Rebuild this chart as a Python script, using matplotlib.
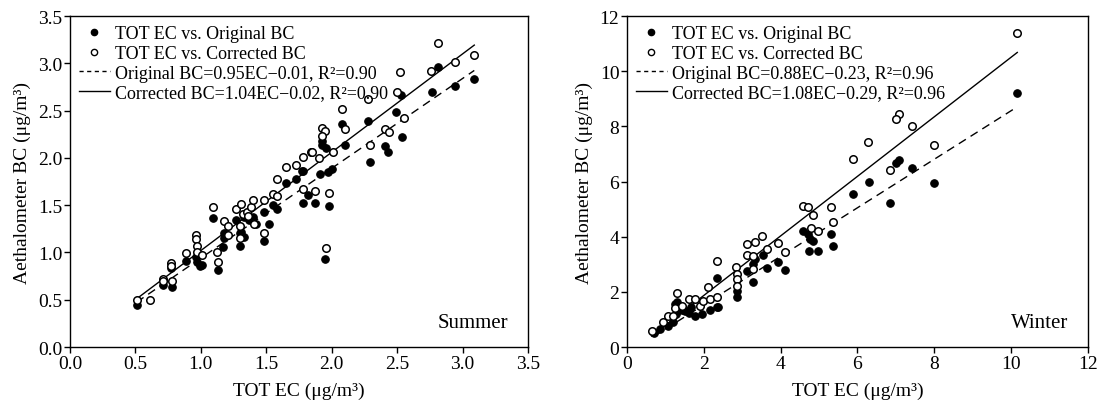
import numpy as np
import matplotlib
matplotlib.use("Agg")
import matplotlib.pyplot as plt
from matplotlib.lines import Line2D

plt.rcParams['font.family'] = ['Liberation Serif', 'DejaVu Serif']
plt.rcParams['font.size'] = 13

# ---------------- Summer data ----------------
summer_ec_orig = [0.51, 0.71, 0.78, 0.77, 0.89, 0.96, 0.97, 0.99, 1.01, 1.09, 1.13, 1.18, 1.18,
                  1.17, 1.27, 1.30, 1.30, 1.33, 1.37, 1.40, 1.33, 1.31, 1.42, 1.48, 1.48, 1.52,
                  1.55, 1.58, 1.65, 1.73, 1.78, 1.78, 1.87, 1.82, 1.77, 1.93, 1.93, 1.96, 1.91,
                  1.97, 2.00, 1.98, 1.95, 2.08, 2.10, 2.28, 2.29, 2.41, 2.43, 2.53, 2.49, 2.54,
                  2.81, 2.77, 2.94, 3.09]
summer_bc_orig = [0.44, 0.66, 0.64, 0.84, 0.91, 0.95, 0.90, 0.86, 0.87, 1.36, 0.81, 1.21, 1.15,
                  1.06, 1.34, 1.21, 1.07, 1.37, 1.34, 1.37, 1.16, 1.22, 1.30, 1.43, 1.12, 1.30,
                  1.50, 1.46, 1.74, 1.78, 1.86, 1.52, 1.52, 1.61, 1.86, 2.18, 2.14, 2.10, 1.83,
                  1.85, 1.88, 1.49, 0.93, 2.36, 2.14, 2.39, 1.96, 2.13, 2.06, 2.67, 2.49, 2.22,
                  2.96, 2.70, 2.76, 2.83]
summer_ec_corr = [0.51, 0.61, 0.71, 0.71, 0.78, 0.77, 0.77, 0.89, 0.96, 0.96, 0.97, 0.97, 1.01,
                  1.09, 1.12, 1.13, 1.18, 1.21, 1.21, 1.27, 1.31, 1.32, 1.30, 1.30, 1.35, 1.36,
                  1.38, 1.40, 1.41, 1.48, 1.48, 1.55, 1.58, 1.58, 1.65, 1.73, 1.78, 1.84, 1.78,
                  1.87, 1.85, 1.93, 1.95, 1.93, 2.01, 1.90, 1.98, 1.96, 2.08, 2.10, 2.28, 2.29,
                  2.41, 2.44, 2.52, 2.50, 2.55, 2.81, 2.76, 2.94, 3.09]
summer_bc_corr = [0.50, 0.50, 0.72, 0.70, 0.70, 0.89, 0.86, 0.99, 1.19, 1.14, 1.07, 1.00, 0.97,
                  1.48, 1.01, 0.90, 1.33, 1.28, 1.19, 1.46, 1.51, 1.41, 1.28, 1.15, 1.43, 1.39,
                  1.48, 1.56, 1.30, 1.55, 1.21, 1.62, 1.60, 1.78, 1.90, 1.93, 2.01, 2.06, 1.67,
                  1.65, 2.06, 2.32, 2.29, 2.23, 2.06, 2.00, 1.63, 1.05, 2.52, 2.31, 2.62, 2.14,
                  2.31, 2.27, 2.91, 2.70, 2.42, 3.22, 2.92, 3.02, 3.09]
summer_fit_orig = (0.95, -0.01, 0.90)
summer_fit_corr = (1.04, -0.02, 0.90)

# ---------------- Winter data ----------------
winter_ec_orig = [0.69, 0.86, 1.08, 1.21, 1.25, 1.28, 1.51, 1.66, 1.77, 1.95, 2.16, 2.33, 2.38,
                  2.35, 2.86, 2.86, 3.12, 3.29, 3.33, 3.28, 3.53, 3.64, 3.92, 4.12, 4.58, 4.70,
                  4.77, 4.85, 4.75, 4.96, 5.30, 5.35, 5.88, 6.31, 6.85, 7.00, 7.09, 7.41, 7.99,
                  10.16, 1.31, 1.42, 1.62]
winter_bc_orig = [0.50, 0.65, 0.78, 0.90, 1.56, 1.20, 1.32, 1.44, 1.14, 1.20, 1.35, 1.44, 1.44,
                  2.52, 2.04, 1.80, 2.77, 3.01, 3.19, 2.34, 3.33, 2.85, 3.10, 2.80, 4.21, 4.09,
                  3.91, 3.85, 3.49, 3.49, 4.09, 3.67, 5.54, 5.99, 5.24, 6.69, 6.79, 6.51, 5.94,
                  9.23, 1.65, 1.35, 1.25]
winter_ec_corr = [0.64, 0.93, 1.08, 1.21, 1.31, 1.25, 1.42, 1.62, 1.77, 1.89, 1.99, 2.15, 2.12,
                  2.35, 2.35, 2.84, 2.86, 2.86, 2.86, 3.13, 3.33, 3.51, 3.12, 3.29, 3.64, 3.92,
                  4.12, 4.58, 4.70, 4.84, 4.78, 4.96, 5.30, 5.35, 5.88, 6.28, 6.85, 7.07, 7.00,
                  7.41, 7.99, 10.16, 3.29]
winter_bc_corr = [0.59, 0.92, 1.13, 1.13, 1.96, 1.40, 1.50, 1.74, 1.74, 1.47, 1.68, 1.74, 2.16,
                  1.80, 3.13, 2.89, 2.65, 2.46, 2.22, 3.73, 3.82, 4.03, 3.33, 3.31, 3.55, 3.79,
                  3.45, 5.12, 5.06, 4.78, 4.30, 4.21, 5.06, 4.52, 6.81, 7.42, 6.43, 8.44, 8.28,
                  8.00, 7.33, 11.40, 2.82]
winter_fit_orig = (0.88, -0.23, 0.96)
winter_fit_corr = (1.08, -0.29, 0.96)

fig = plt.figure(figsize=(11.07, 4.10), dpi=100)
ax1 = fig.add_axes([0.0632, 0.1512, 0.4137, 0.807])
ax2 = fig.add_axes([0.5664, 0.1512, 0.4164, 0.807])

MS = 5.4


def draw(ax, eco, bco, ecc, bcc, fo, fc, xlim, ylim, xticks, yticks, fmt, season):
    ax.plot(eco, bco, 'o', ms=MS, mfc='black', mec='black', mew=0.8, ls='none', zorder=3)
    ax.plot(ecc, bcc, 'o', ms=MS, mfc='white', mec='black', mew=1.1, ls='none', zorder=4)
    xs_o = np.array([min(eco), max(eco)])
    xs_c = np.array([min(ecc), max(ecc)])
    ax.plot(xs_o, fo[0] * xs_o + fo[1], color='black', lw=1.0, ls=(0, (6, 4)), zorder=2)
    ax.plot(xs_c, fc[0] * xs_c + fc[1], color='black', lw=1.0, ls='-', zorder=2)
    ax.set_xlim(*xlim)
    ax.set_ylim(*ylim)
    ax.set_xticks(xticks)
    ax.set_yticks(yticks)
    ax.set_xticklabels([fmt.format(t) for t in xticks])
    ax.set_yticklabels([fmt.format(t) for t in yticks])
    ax.tick_params(direction='out', length=4, width=1, top=False, right=False, labelsize=14, pad=1.5)
    for s in ax.spines.values():
        s.set_linewidth(1.0)
    ax.set_xlabel('TOT EC (μg/m³)', fontsize=14, labelpad=7)
    ax.set_ylabel('Aethalometer BC (μg/m³)', fontsize=14, labelpad=5)
    handles = [
        Line2D([], [], marker='o', ms=4.5, mfc='black', mec='black', ls='none'),
        Line2D([], [], marker='o', ms=4.5, mfc='white', mec='black', ls='none'),
        Line2D([], [], color='black', lw=1.0, ls=(0, (3, 2.5))),
        Line2D([], [], color='black', lw=1.0, ls='-'),
    ]
    labels = [
        'TOT EC vs. Original BC',
        'TOT EC vs. Corrected BC',
        'Original BC={:.2f}EC\u2212{:.2f}, R²={:.2f}'.format(fo[0], -fo[1], fo[2]),
        'Corrected BC={:.2f}EC\u2212{:.2f}, R²={:.2f}'.format(fc[0], -fc[1], fc[2]),
    ]
    ax.legend(handles, labels, loc='upper left', frameon=False, fontsize=13,
              handlelength=1.7, handletextpad=0.3, labelspacing=0.15,
              borderaxespad=0.2, borderpad=0.3, numpoints=1)
    ax.text(0.958, 0.075, season, transform=ax.transAxes, ha='right', va='center', fontsize=15)


draw(ax1, summer_ec_orig, summer_bc_orig, summer_ec_corr, summer_bc_corr,
     summer_fit_orig, summer_fit_corr, (0, 3.5), (0, 3.5),
     [0, 0.5, 1.0, 1.5, 2.0, 2.5, 3.0, 3.5], [0, 0.5, 1.0, 1.5, 2.0, 2.5, 3.0, 3.5],
     '{:.1f}', 'Summer')
draw(ax2, winter_ec_orig, winter_bc_orig, winter_ec_corr, winter_bc_corr,
     winter_fit_orig, winter_fit_corr, (0, 12), (0, 12),
     [0, 2, 4, 6, 8, 10, 12], [0, 2, 4, 6, 8, 10, 12],
     '{:.0f}', 'Winter')

fig.savefig('out.png', dpi=100)
